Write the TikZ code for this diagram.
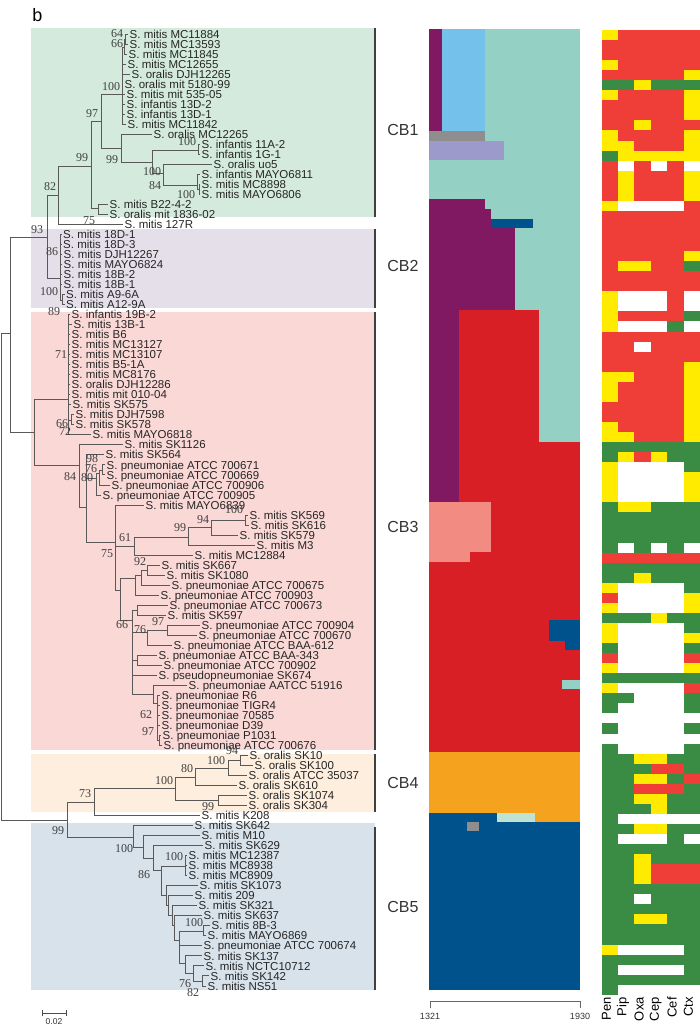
\documentclass[tikz,border=0pt]{standalone}
\usepackage{fontspec}
\setmainfont{Liberation Sans}
\newfontfamily\bsfont{Liberation Serif}
\usetikzlibrary{positioning}

\definecolor{cbone}{RGB}{212,234,220}
\definecolor{cbtwo}{RGB}{228,223,233}
\definecolor{cbthree}{RGB}{250,216,214}
\definecolor{cbfour}{RGB}{253,238,221}
\definecolor{cbfive}{RGB}{215,226,235}
\definecolor{mzpur}{RGB}{128,25,98}
\definecolor{mzsky}{RGB}{116,194,235}
\definecolor{mzteal}{RGB}{148,208,196}
\definecolor{mzgray}{RGB}{142,142,142}
\definecolor{mzlav}{RGB}{155,154,203}
\definecolor{mznavy}{RGB}{0,82,140}
\definecolor{mzred}{RGB}{217,31,38}
\definecolor{mzpink}{RGB}{242,139,130}
\definecolor{mzorange}{RGB}{245,162,31}
\definecolor{mzmint}{RGB}{190,227,208}
\definecolor{hmR}{RGB}{239,62,56}
\definecolor{hmY}{RGB}{255,235,0}
\definecolor{hmG}{RGB}{58,140,69}
\definecolor{hmW}{RGB}{255,255,255}

\begin{document}
\begin{tikzpicture}[
  x=1pt, y=-1pt,
  br/.style={draw=black!65, line width=0.8pt},
  leaf/.style={anchor=west, inner xsep=1.5pt, inner ysep=0pt, text height=8.3pt,
               text depth=0pt, font=\fontsize{11.5}{11.5}\selectfont, text=black!85},
  bs/.style={inner sep=0pt, font=\bsfont\fontsize{12}{12}\selectfont, text=black!75},
  clab/.style={inner sep=0pt, font=\fontsize{16}{16}\selectfont, text=black!80},
  bar/.style={draw=black!75, line width=1.6pt},
  hlab/.style={rotate=90, anchor=east, inner sep=0pt, font=\fontsize{13}{13}\selectfont},
  ax/.style={inner sep=0pt, font=\fontsize{9}{9}\selectfont, text=black!80}
]
\useasboundingbox (0,0) rectangle (700,1027);

% clade boxes
\fill[cbone]   (31,28)  rectangle (375,217);
\fill[cbtwo]   (31,229) rectangle (375,308);
\fill[cbthree] (31,312) rectangle (375,750);
\fill[cbfour]  (31,754) rectangle (375,812);
\fill[cbfive]  (31,823) rectangle (375,990);
\draw[bar] (375,28) -- (375,217);
\draw[bar] (375,229) -- (375,308);
\draw[bar] (375,312) -- (375,750);
\draw[bar] (375,754) -- (375,812);
\draw[bar] (375,827) -- (375,990);
\node[clab] (cb1) at (403,130) {CB1};
\node[clab] (cb2) at (403,266) {CB2};
\node[clab] (cb3) at (403,527) {CB3};
\node[clab] (cb4) at (403,783) {CB4};
\node[clab] (cb5) at (403,907) {CB5};
\node[inner sep=0pt, font=\fontsize{18}{18}\selectfont] (panel) at (37.5,15) {b};

% mosaic
\fill[mzteal]   (429,29)  rectangle (580,310);
\fill[mzteal]   (539,310) rectangle (580,442);
\fill[mzred]    (459,310) rectangle (539,442);
\fill[mzred]    (429,442) rectangle (580,752);
\fill[mzpur]    (429,29)  rectangle (442,131);
\fill[mzsky]    (442,29)  rectangle (485,131);
\fill[mzgray]   (429,131) rectangle (485,141);
\fill[mzlav]    (429,141) rectangle (504,160);
\fill[mzpur]    (429,199) rectangle (485,209);
\fill[mzpur]    (429,209) rectangle (491,228);
\fill[mznavy]   (491,219) rectangle (533,228);
\fill[mzpur]    (429,228) rectangle (515,310);
\fill[mzpur]    (429,310) rectangle (459,502);
\fill[mzpink]   (429,502) rectangle (491,552);
\fill[mzpink]   (429,552) rectangle (470,562);
\fill[mznavy]   (549,620) rectangle (580,641);
\fill[mznavy]   (565,641) rectangle (580,650);
\fill[mzteal]   (562,680) rectangle (580,689);
\fill[mzorange] (429,752) rectangle (580,813);
\fill[mzorange] (535,813) rectangle (580,822);
\fill[mzmint]   (497,813) rectangle (535,822);
\fill[mznavy]   (429,813) rectangle (497,822);
\fill[mznavy]   (429,822) rectangle (580,990);
\fill[mzgray]   (467,822) rectangle (479,831);
\draw[black!60, line width=0.6pt] (430,1008) -- (430,1001.5) -- (580,1001.5) -- (580,1008);
\node[ax] (lo) at (430,1016) {1321};
\node[ax] (hi) at (580,1016) {1930};

% resistance heatmap
\foreach \hA/\hB/\hC/\hD/\hE/\hF [count=\i] in {
  Y/R/R/R/R/R, R/R/R/R/R/R, R/R/R/R/R/R, Y/R/R/R/R/R, R/R/R/R/R/Y, G/G/Y/G/G/G,
  Y/R/R/R/R/Y, R/R/R/R/R/Y, R/R/R/R/R/Y, R/R/Y/R/R/R, Y/R/R/R/R/Y, Y/Y/R/R/R/Y,
  G/Y/Y/Y/Y/Y, R/W/R/W/R/W, R/Y/R/R/R/Y, R/Y/R/R/R/Y, R/Y/R/R/R/Y, Y/W/W/W/W/R,
  R/R/R/R/R/R, R/R/R/R/R/R, R/R/R/R/R/R, R/R/R/R/R/R, R/R/R/R/R/Y, R/Y/Y/R/R/G,
  R/R/R/R/R/R, R/R/R/R/R/R, Y/W/W/W/R/W, Y/W/W/W/R/W, Y/R/R/R/R/G, Y/W/W/W/G/W,
  R/R/R/R/R/R, R/R/W/R/R/R, R/R/R/R/R/R, R/R/R/R/R/Y, Y/Y/R/R/R/Y, Y/R/R/R/R/Y,
  Y/R/R/R/R/Y, R/R/R/R/R/Y, R/R/R/R/R/Y, Y/R/R/R/R/Y, Y/Y/R/R/R/Y, G/G/G/G/G/G,
  G/Y/R/Y/G/G, Y/W/W/W/W/G, Y/W/W/W/W/Y, Y/W/W/W/W/Y, Y/W/W/W/W/Y, G/Y/Y/G/G/G,
  G/G/G/G/G/G, G/G/G/G/G/G, G/G/G/G/G/G, G/W/G/W/G/W, R/R/R/R/R/R, G/G/G/G/G/G,
  G/G/Y/G/G/G, Y/W/W/W/W/G, R/W/W/W/W/Y, Y/W/W/W/W/Y, G/G/G/Y/G/G, Y/W/W/W/W/G,
  Y/W/W/W/W/Y, G/W/W/W/W/G, R/W/W/W/W/R, Y/W/W/W/W/Y, G/G/G/G/G/G, Y/W/W/W/W/R,
  G/G/W/W/W/G, G/W/W/W/W/G, W/W/W/W/W/W, G/W/W/W/W/G, W/W/W/W/W/W, G/W/W/W/W/G,
  G/G/Y/Y/G/G, G/G/G/R/R/G, G/G/Y/Y/G/R, G/G/R/R/R/G, G/G/Y/Y/G/G, G/G/G/Y/G/G,
  G/W/W/W/W/W, G/G/Y/Y/G/G, G/W/W/W/G/W, G/G/G/G/G/G, G/G/Y/G/G/G, G/G/Y/R/R/R,
  G/G/Y/R/R/R, G/G/G/G/G/G, G/G/W/G/G/G, G/G/G/G/G/G, G/G/Y/Y/G/G, G/G/G/G/G/G,
  G/G/G/G/G/G, Y/W/W/W/W/G, G/G/G/G/G/G, G/W/W/W/W/G, G/G/G/G/G/G, G/W/W/W/W/W}
{
  \foreach \v [count=\j] in {\hA,\hB,\hC,\hD,\hE,\hF}
    \fill[hm\v] ({601.7+(\j-1)*16.38},{30+(\i-1)*10.05}) rectangle ++(16.6,10.3);
}
\foreach \t [count=\j] in {Pen,Pip,Oxa,Cep,Cef,Ctx}
  \node[hlab] (ab\j) at ({606.5+(\j-1)*16.38},997) {\t};

% leaves
\foreach \x/\t [count=\i] in {
  128/S. mitis MC11884, 128/S. mitis MC13593, 127/S. mitis MC11845, 126/S. mitis MC12655,
  130/S. oralis DJH12265, 123/S. oralis mit 5180-99, 125/S. mitis mit 535-05,
  125/S. infantis 13D-2, 125/S. infantis 13D-1, 126/S. mitis MC11842,
  152/S. oralis MC12265, 200/S. infantis 11A-2, 200/S. infantis 1G-1, 212/S. oralis uo5,
  200/S. infantis MAYO6811, 200/S. mitis MC8898, 200/S. mitis MAYO6806,
  108/S. mitis B22-4-2, 108/S. oralis mit 1836-02, 123/S. mitis 127R,
  61.5/S. mitis 18D-1, 61.5/S. mitis 18D-3, 62/S. mitis DJH12267, 62/S. mitis MAYO6824,
  62/S. mitis 18B-2, 62/S. mitis 18B-1, 64.5/S. mitis A9-6A, 64.5/S. mitis A12-9A,
  70/S. infantis 19B-2, 72/S. mitis 13B-1, 70/S. mitis B6, 70/S. mitis MC13127,
  70/S. mitis MC13107, 70/S. mitis B5-1A, 70/S. mitis MC8176, 70/S. oralis DJH12286,
  70/S. mitis mit 010-04, 71/S. mitis SK575, 74/S. mitis DJH7598, 74/S. mitis SK578,
  91/S. mitis MAYO6818, 123/S. mitis SK1126, 104/S. mitis SK564,
  105/S. pneumoniae ATCC 700671, 105/S. pneumoniae ATCC 700669,
  110/S. pneumoniae ATCC 700906, 101/S. pneumoniae ATCC 700905,
  144/S. mitis MAYO6839, 248/S. mitis SK569, 249/S. mitis SK616, 238/S. mitis SK579,
  255/S. mitis M3, 193/S. mitis MC12884, 160/S. mitis SK667, 165/S. mitis SK1080,
  170/S. pneumoniae ATCC 700675, 159/S. pneumoniae ATCC 700903,
  168/S. pneumoniae ATCC 700673, 166/S. mitis SK597,
  200/S. pneumoniae ATCC 700904, 197/S. pneumoniae ATCC 700670,
  172/S. pneumoniae ATCC BAA-612, 157/S. pneumoniae ATCC BAA-343,
  162/S. pneumoniae ATCC 700902, 157/S. pseudopneumoniae SK674,
  187/S. pneumoniae AATCC 51916, 160/S. pneumoniae R6, 160/S. pneumoniae TIGR4,
  160/S. pneumoniae 70585, 160/S. pneumoniae D39, 161/S. pneumoniae P1031,
  162/S. pneumoniae ATCC 700676,
  248/S. oralis SK10, 253/S. oralis SK100, 247/S. oralis ATCC 35037, 237/S. oralis SK610,
  247/S. oralis SK1074, 247/S. oralis SK304, 200/S. mitis K208,
  193/S. mitis SK642, 200/S. mitis M10, 203/S. mitis SK629, 187/S. mitis MC12387,
  187/S. mitis MC8938, 187/S. mitis MC8909, 198/S. mitis SK1073, 193/S. mitis 209,
  197/S. mitis SK321, 202/S. mitis SK637, 210/S. mitis 8B-3, 206/S. mitis MAYO6869,
  202/S. pneumoniae ATCC 700674, 202/S. mitis SK137, 204/S. mitis NCTC10712,
  209/S. mitis SK142, 206/S. mitis NS51}
{
  \pgfmathsetmacro\yy{34+(\i-1)*10.02}
  \node[leaf] (t\i) at (\x,\yy) {\t};
}

% inner nodes of the tree
\foreach \n/\x/\y in {
  R0/1/576, R1/10/333, N93/47/237, N82/58/195, N99a/91/166, N97/101/121,
  A/122/94, N66/124/47, N64/125.5/39, C/121/148, D/152/162, E/198/150,
  F/163/173, G/197/185, H/199/189, Nb22/98/208, K/60/278, L/62/300,
  P/34/432, M71/68/399, M66/71/420, Q/79/465, Q5/86/507, Q6/96/478,
  Q7/99/473, Q8/102/470, T75/115/542, N61/134/546, N99b/188/537, N94/211/527,
  N100c/245/520, U/120/590, V3/135/578, V2/141/575, V92/147/570, Y66/132/620,
  W1/137/610, Z76/147/632, Z97/167/630, Z3/137/660, AB/153/694, R6C/157/703,
  N97c/159/740, R5/67/820, N73/94/802, N100d/175/788, N80/195/777, N100e/228/768,
  N94b/240/760, N99d/218/800, N99e/133/837, N100f/143/847, N86/153/858,
  Nx/161/870, N100g/185/866, L1/166/895, L2/168/905, L3/172/915, L4/174/925,
  L5/179/940, N100h/203/931, L6/185/963, L7/193/973, L8/202/981}
  \coordinate (\n) at (\x,\y);

% branches
\foreach \pn/\cn in {
  R0/R1, R0/R5, R1/N93, R1/P, N93/N82, N93/K, N82/N99a, N82/t20.west,
  N99a/N97, N99a/Nb22, N97/A, N97/C, A/N66, N66/N64, N66/t3.west,
  N64/t1.west, N64/t2.west, C/t11.west, C/D, D/E, D/F, E/t12.west, E/t13.west,
  F/t14.west, F/G, G/t15.west, G/H, H/t16.west, H/t17.west,
  Nb22/t18.west, Nb22/t19.west, K/L, L/t27.west, L/t28.west,
  P/M71, P/Q, M71/M66, M71/t41.west, M66/t39.west, M66/t40.west,
  Q/t42.west, Q/Q5, Q5/t43.west, Q5/Q6, Q5/T75, Q6/Q7, Q6/t47.west,
  Q7/Q8, Q7/t46.west, Q8/t44.west, Q8/t45.west,
  T75/t48.west, T75/N61, T75/U, N61/N99b, N61/t53.west, N99b/N94, N99b/t52.west,
  N94/N100c, N94/t51.west, N100c/t49.west, N100c/t50.west,
  U/V3, U/Y66, V3/V2, V3/t57.west, V2/V92, V2/t56.west, V92/t54.west, V92/t55.west,
  Y66/W1, Y66/Z76, Y66/Z3, Y66/t65.west, Y66/AB, W1/t58.west, W1/t59.west,
  Z76/Z97, Z76/t62.west, Z97/t60.west, Z97/t61.west, Z3/t63.west, Z3/t64.west,
  AB/t66.west, AB/R6C, R6C/N97c, N97c/t71.west, N97c/t72.west,
  R5/N73, R5/N99e, N73/N100d, N73/t79.west, N100d/N80, N100d/N99d,
  N80/N100e, N80/t76.west, N100e/N94b, N100e/t75.west, N94b/t73.west, N94b/t74.west,
  N99d/t77.west, N99d/t78.west, N99e/t80.west, N99e/N100f, N100f/t81.west, N100f/N86,
  N86/t82.west, N86/Nx, Nx/N100g, Nx/L1, L1/t86.west, L1/L2, L2/t87.west, L2/L3,
  L3/t88.west, L3/L4, L4/t89.west, L4/L5, L5/N100h, L5/t92.west, L5/L6,
  N100h/t90.west, N100h/t91.west, L6/t93.west, L6/L7, L7/t94.west, L7/L8,
  L8/t95.west, L8/t96.west}
  \draw[br] (\pn) |- (\cn);
\foreach \c in {4,...,10} \draw[br] (A) |- (t\c.west);
\foreach \c in {21,...,26} \draw[br] (K) |- (t\c.west);
\foreach \c in {29,...,38} \draw[br] (M71) |- (t\c.west);
\foreach \c in {67,...,70} \draw[br] (R6C) |- (t\c.west);
\foreach \c in {83,84,85} \draw[br] (N100g) |- (t\c.west);

% bootstrap values
\foreach \x/\y/\b [count=\k] in {
  117/34/64, 117/44/66, 111/87/100, 92/114/97, 82/158/99, 112/160/99,
  187/142/100, 152/172/100, 155/186/84, 186/195/100, 50/187/82, 89/221/75,
  37/230/93, 52/252/86, 49/292/100, 54/312/89, 61/355/71, 62/424/66, 65/432/72,
  92/459/98, 91/469/76, 70/477/84, 87/478/80, 234/510/100, 203/520/94,
  180/528/99, 125/538/61, 107/554/75, 140/562/92, 122/625/66, 158/622/97,
  140/630/76, 146/715/62, 148/732/97, 232/751/94, 216/761/100, 187/769/80,
  164/781/100, 85/794/73, 208/807/99, 58/831/99, 124/849/100, 174/857/100,
  144/875/86, 194/923/100, 185/984/76, 193/993/82}
  \node[bs] (bs\k) at (\x,\y) {\b};

% scale bar
\draw[black!70, line width=0.8pt] (42,1010) -- (42,1016) (42,1013) -- (66,1013) (66,1010) -- (66,1016);
\node[ax, font=\fontsize{8.5}{8.5}\selectfont] (sc) at (54,1022) {0.02};
\end{tikzpicture}
\end{document}
